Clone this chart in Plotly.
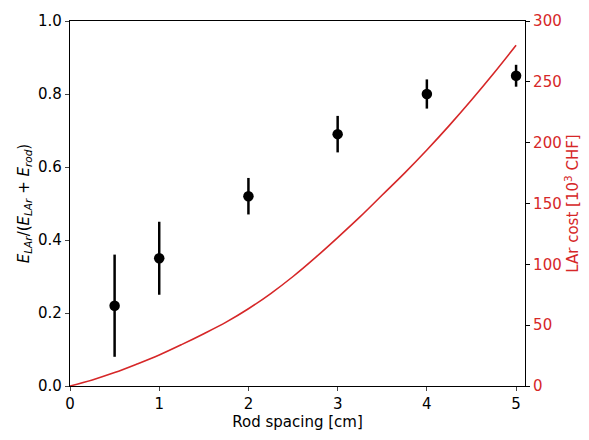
import plotly.graph_objects as go

# Measured points
spacing = [0.5, 1, 2, 3, 4, 5]
frac = [0.22, 0.35, 0.52, 0.69, 0.80, 0.85]
frac_err = [0.14, 0.10, 0.05, 0.05, 0.04, 0.03]

# LAr cost curve
cost_x = [0, 0.25, 0.5, 0.75, 1, 1.25, 1.5, 1.75, 2, 2.25, 2.5, 2.75, 3, 3.25, 3.5, 3.75, 4, 4.25, 4.5, 4.75, 5]
cost_y = [0, 5.0, 11, 18, 25.5, 34, 43, 52.5, 63.5, 76, 90, 105.5, 122, 139, 157, 175, 194, 214, 235, 257, 280]

RED = "#d62728"
FONT = "DejaVu Sans"
FS = 15

fig = go.Figure()
fig.add_trace(go.Scatter(
    x=cost_x, y=cost_y, mode="lines", yaxis="y2",
    line=dict(color=RED, width=1.6, shape="spline"), showlegend=False, hoverinfo="skip"))
fig.add_trace(go.Scatter(
    x=spacing, y=frac, mode="markers",
    marker=dict(color="black", size=10.5),
    error_y=dict(type="data", array=frac_err, color="black", thickness=2.5, width=0),
    showlegend=False))

fig.update_layout(
    width=589, height=440,
    margin=dict(l=70, r=64, t=13, b=54),
    plot_bgcolor="white", paper_bgcolor="white",
    font=dict(family=FONT, size=FS, color="black"),
    xaxis=dict(range=[0, 5.1], tickvals=[0, 1, 2, 3, 4, 5], ticks="outside", ticklen=4,
               showline=True, linecolor="black", linewidth=1.2, mirror=True,
               showgrid=False, zeroline=False,
               title=dict(text="Rod spacing [cm]", standoff=4, font=dict(size=FS))),
    yaxis=dict(range=[0, 1], tickvals=[0, 0.2, 0.4, 0.6, 0.8, 1.0],
               ticktext=["0.0", "0.2", "0.4", "0.6", "0.8", "1.0"],
               ticks="outside", ticklen=4, showline=True, linecolor="black", linewidth=1.2,
               showgrid=False, zeroline=False,
               title=dict(text="<i>E</i><sub><i>LAr</i></sub>/(<i>E</i><sub><i>LAr</i></sub> + <i>E</i><sub><i>rod</i></sub>)",
                          standoff=4, font=dict(size=FS))),
    yaxis2=dict(range=[0, 300], tickvals=[0, 50, 100, 150, 200, 250, 300], overlaying="y", side="right",
                ticks="outside", ticklen=4, tickcolor="black", showline=True, linecolor="black", linewidth=1.2,
                showgrid=False, zeroline=False, tickfont=dict(color=RED, size=FS),
                title=dict(text="LAr cost [10<sup>3</sup> CHF]", standoff=4, font=dict(color=RED, size=FS))),
)

fig.write_html("out.html")
